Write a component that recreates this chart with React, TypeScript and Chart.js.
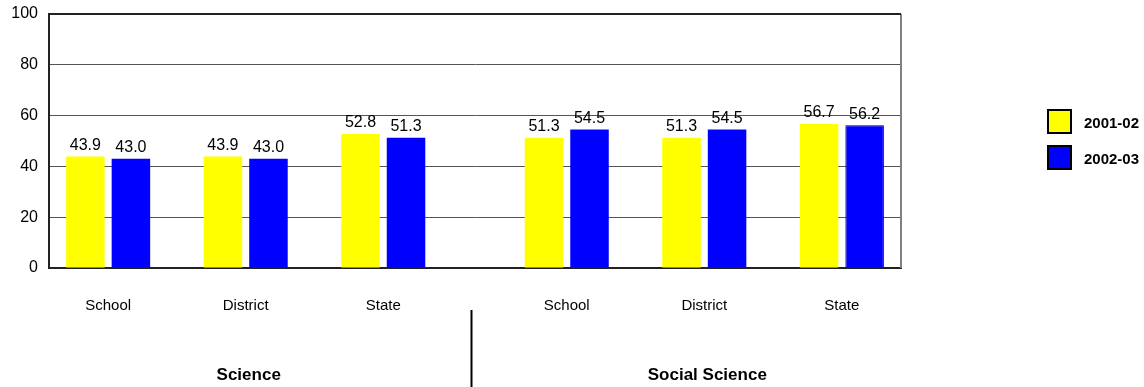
import React, { useEffect, useRef } from "react";
import { Chart, registerables } from "chart.js";

Chart.register(...registerables);

const subjects = ["Science", "Social Science"];
const levels = ["School", "District", "State"];
const seriesLabels = ["2001-02", "2002-03"];
const values2001 = [43.9, 43.9, 52.8, 51.3, 51.3, 56.7];
const values2002 = [43.0, 43.0, 51.3, 54.5, 54.5, 56.2];
const yTickValues = [0, 20, 40, 60, 80, 100];
const seriesColors = ["#FFFF00", "#0000FF"];

const GROUP_GAP = 0.334;
const EDGE = 0.43;
const FONT = "'Liberation Sans', Arial, sans-serif";

const positions = subjects.flatMap((_, gi) =>
  levels.map((_, li) => gi * (levels.length + GROUP_GAP) + li)
);
const tickLabels = subjects.flatMap(() => levels);

const overlayPlugin = {
  id: "overlay",
  afterDatasetsDraw(chart: any) {
    const ctx = chart.ctx;
    const area = chart.chartArea;
    const xs = chart.scales.x;
    ctx.save();
    // value labels
    ctx.font = `16px ${FONT}`;
    ctx.fillStyle = "#000";
    ctx.textAlign = "center";
    ctx.textBaseline = "bottom";
    chart.data.datasets.forEach((ds: any, di: number) => {
      const meta = chart.getDatasetMeta(di);
      meta.data.forEach((el: any, i: number) => {
        ctx.fillText(ds.data[i].y.toFixed(1), el.x, el.y - 3);
      });
    });
    // right border
    ctx.strokeStyle = "#808080";
    ctx.lineWidth = 2;
    ctx.beginPath();
    ctx.moveTo(area.right, area.top);
    ctx.lineTo(area.right, area.bottom);
    ctx.stroke();
    // top border
    ctx.strokeStyle = "#222";
    ctx.lineWidth = 2;
    ctx.beginPath();
    ctx.moveTo(area.left, area.top);
    ctx.lineTo(area.right, area.top);
    ctx.stroke();
    // group labels + separator
    ctx.font = `bold 17px ${FONT}`;
    ctx.textBaseline = "middle";
    subjects.forEach((s, gi) => {
      const first = xs.getPixelForValue(positions[gi * levels.length]);
      const last = xs.getPixelForValue(positions[gi * levels.length + levels.length - 1]);
      ctx.fillText(s, (first + last) / 2 + 3, 375);
    });
    for (let gi = 1; gi < subjects.length; gi++) {
      const a = xs.getPixelForValue(positions[gi * levels.length - 1]);
      const b = xs.getPixelForValue(positions[gi * levels.length]);
      const sx = Math.round((a + b) / 2 - 4) + 0.5;
      ctx.strokeStyle = "#000";
      ctx.lineWidth = 2;
      ctx.beginPath();
      ctx.moveTo(sx, 310);
      ctx.lineTo(sx, chart.height);
      ctx.stroke();
    }
    // legend
    ctx.font = `bold 15px ${FONT}`;
    ctx.textAlign = "left";
    seriesLabels.forEach((lab, i) => {
      const by = 110 + i * 36;
      ctx.fillStyle = seriesColors[i];
      ctx.fillRect(1048, by, 23, 23);
      ctx.strokeStyle = "#000";
      ctx.lineWidth = 2;
      ctx.strokeRect(1048, by, 23, 23);
      ctx.fillStyle = "#000";
      ctx.fillText(lab, 1084, by + 14);
    });
    ctx.restore();
  },
};

export default function App() {
  const ref = useRef<HTMLCanvasElement | null>(null);
  useEffect(() => {
    if (!ref.current) return;
    const mk = (vals: number[]) => vals.map((v, i) => ({ x: positions[i], y: v }));
    const chart = new Chart(ref.current, {
      type: "bar",
      data: {
        datasets: [
          {
            label: seriesLabels[0],
            data: mk(values2001) as any,
            backgroundColor: seriesColors[0],
            borderWidth: 0,
            categoryPercentage: 0.662,
            barPercentage: 0.846,
          },
          {
            label: seriesLabels[1],
            data: mk(values2002) as any,
            backgroundColor: seriesColors[1],
            borderColor: "#000",
            borderWidth: values2002.map((_, i) => (i === values2002.length - 1 ? 1 : 0)),
            categoryPercentage: 0.662,
            barPercentage: 0.846,
          },
        ],
      },
      options: {
        animation: false,
        responsive: false,
        devicePixelRatio: 1,
        layout: { padding: { top: 14, right: 243, left: 0, bottom: 0 } },
        plugins: { legend: { display: false }, tooltip: { enabled: false } },
        scales: {
          x: {
            type: "linear",
            min: -EDGE,
            max: positions[positions.length - 1] + EDGE,
            offset: false,
            bounds: "data",
            grid: { display: false, drawTicks: false },
            border: { display: true, color: "#222", width: 2 },
            afterBuildTicks: (s: any) => {
              s.ticks = positions.map((v) => ({ value: v }));
            },
            afterFit: (s: any) => {
              s.height = 119;
              s.paddingLeft = 0;
              s.paddingRight = 0;
            },
            ticks: {
              autoSkip: false,
              maxRotation: 0,
              padding: 29,
              color: "#000",
              font: { family: FONT, size: 15 },
              callback: (_v: any, i: number) => tickLabels[i],
            },
          },
          y: {
            min: 0,
            max: 100,
            afterBuildTicks: (s: any) => {
              s.ticks = yTickValues.map((v) => ({ value: v }));
            },
            afterFit: (s: any) => {
              s.width = 49;
              s.paddingTop = 0;
              s.paddingBottom = 0;
            },
            grid: { color: "#555", lineWidth: 1, drawTicks: false },
            border: { display: true, color: "#222", width: 2 },
            ticks: {
              padding: 11,
              color: "#000",
              font: { family: FONT, size: 16 },
            },
          },
        },
      } as any,
      plugins: [overlayPlugin],
    });
    return () => chart.destroy();
  }, []);
  return (
    <div style={{ position: "absolute", left: 0, top: 0, width: 1144, height: 387, background: "#fff" }}>
      <canvas ref={ref} width={1144} height={387} />
    </div>
  );
}
